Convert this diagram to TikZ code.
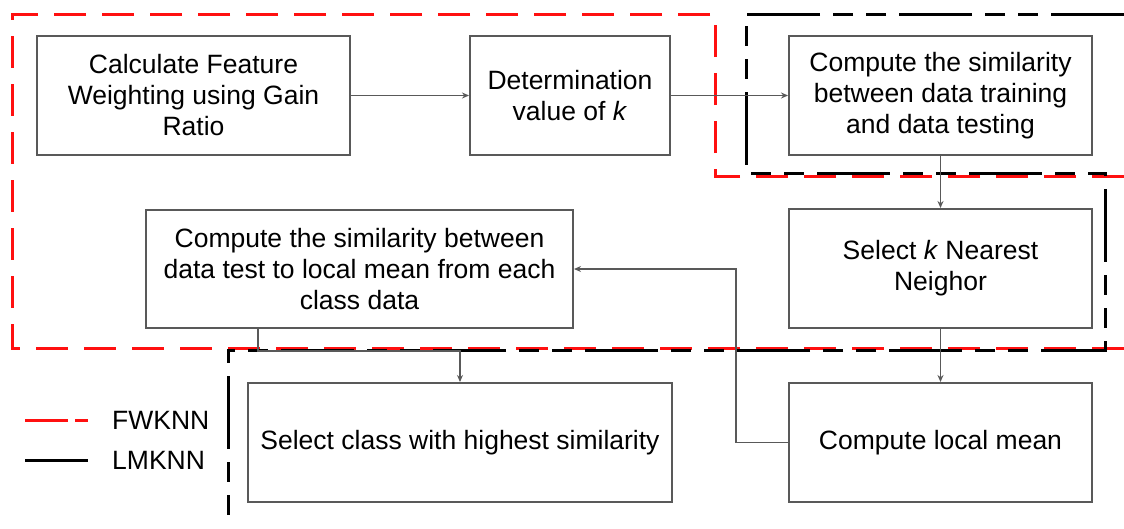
\documentclass[tikz,border=0pt]{standalone}
\usepackage{fontspec}
\setmainfont{Liberation Sans}
\usetikzlibrary{arrows.meta}
\definecolor{boxgray}{HTML}{595959}
\definecolor{fwred}{HTML}{FF1010}
\tikzset{
  procbox/.style={draw=boxgray, line width=2pt, fill=white, inner sep=0pt, align=center,
    font=\fontsize{26.5}{31}\selectfont},
  arr/.style={draw=boxgray, line width=1.6pt, -{Stealth[length=7pt,width=6pt]}},
  fwline/.style={draw=fwred, line width=3pt, dash pattern=on 32pt off 16pt},
  lmline/.style={draw=black, line width=3pt, dash pattern=on 73pt off 13pt on 20pt off 13pt on 20pt off 13pt},
  legtext/.style={anchor=west, inner sep=0pt, font=\fontsize{26.5}{31}\selectfont}
}
\begin{document}
\begin{tikzpicture}[x=1pt,y=-1pt]
\useasboundingbox (0,0) rectangle (1124,528);
% boundaries
\draw[fwline] (1124,176) -- (715,176) -- (715,14) -- (12,14) -- (12,348) -- (1124,348);
\draw[lmline] (1124,14) -- (746,14) -- (746,173) -- (1105,173) -- (1105,350) -- (228,350) -- (228,522);
% boxes
\node[procbox, minimum width=313pt, minimum height=119pt] (A) at (193.5,95.5) {Calculate Feature\\Weighting using Gain\\Ratio};
\node[procbox, minimum width=200pt, minimum height=119pt] (B) at (570,95.5) {Determination\\value of \textit{k}};
\node[procbox, minimum width=303pt, minimum height=119pt] (C) at (940.5,95.5) {Compute the similarity\\between data training\\and data testing};
\node[procbox, minimum width=303pt, minimum height=119pt] (D) at (940.5,268.5) {Select \textit{k} Nearest\\Neighor};
\node[procbox, minimum width=427pt, minimum height=118pt] (E) at (359.5,269) {Compute the similarity between\\data test to local mean from each\\class data};
\node[procbox, minimum width=424pt, minimum height=119pt] (F) at (460,442.5) {Select class with highest similarity};
\node[procbox, minimum width=303pt, minimum height=119pt] (G) at (940.5,442.5) {Compute local mean};
% connectors
\draw[arr] (A.east) -- (B.west);
\draw[arr] (B.east) -- (C.west);
\draw[arr] (C.south) -- (D.north);
\draw[arr] (D.south) -- (G.north);
\draw[arr] (G.west) -- ++(-52,0) |- (E.east);
\draw[arr] ([xshift=-101.5pt]E.south) -- ++(0,22) -| (F.north);
% legend
\draw[draw=fwred, line width=3pt, dash pattern=on 43pt off 7pt] (25,420) -- (88,420);
\draw[draw=black, line width=3pt] (25,460) -- (88,460);
\node[legtext] (l1) at (112,420) {FWKNN};
\node[legtext] (l2) at (112,460) {LMKNN};
\end{tikzpicture}
\end{document}
